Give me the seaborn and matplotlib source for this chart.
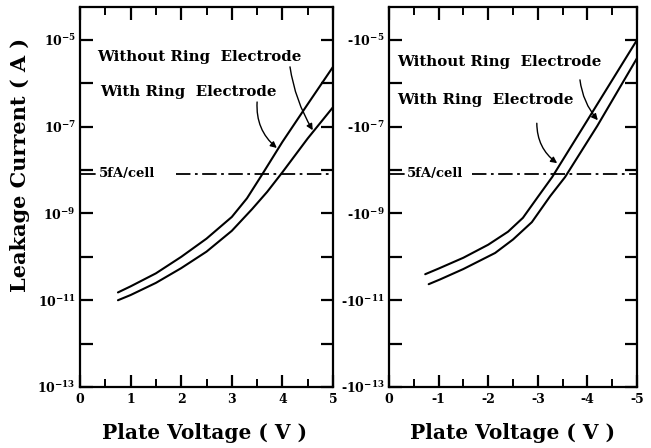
import numpy as np
import pandas as pd
import matplotlib
matplotlib.use("Agg")
import matplotlib.pyplot as plt
import seaborn as sns

# ---- data (log10 of |leakage current| in A) ----
left_v_upper = [0.75, 1.0, 1.5, 2.0, 2.5, 3.0, 3.3, 3.6, 4.0, 4.5, 5.0]
left_e_upper = [-10.82, -10.68, -10.38, -10.0, -9.58, -9.08, -8.65, -8.1, -7.35, -6.48, -5.62]
left_v_lower = [0.75, 1.0, 1.5, 2.0, 2.5, 3.0, 3.4, 3.7, 4.0, 4.5, 5.0]
left_e_lower = [-11.0, -10.88, -10.6, -10.26, -9.88, -9.4, -8.9, -8.5, -8.05, -7.27, -6.55]

right_v_upper = [-0.73, -1.0, -1.5, -2.0, -2.4, -2.7, -3.0, -3.29, -4.0, -5.0]
right_e_upper = [-10.4, -10.27, -10.02, -9.72, -9.42, -9.1, -8.62, -8.16, -6.85, -5.0]
right_v_lower = [-0.8, -1.03, -1.5, -2.14, -2.5, -2.88, -3.25, -3.55, -4.2, -5.0]
right_e_lower = [-10.63, -10.52, -10.28, -9.91, -9.6, -9.2, -8.6, -8.16, -6.98, -5.42]

limit_exp = -8.08          # 5fA/cell criterion
ytick_exps = list(range(-13, -4))
ylabel_exps = [-13, -11, -9, -7, -5]
left_xticks = [0, 1, 2, 3, 4, 5]
right_xticks = [0, -1, -2, -3, -4, -5]

sns.set_theme(style="ticks")
plt.rcParams['font.family'] = ['DejaVu Serif']
plt.rcParams['font.weight'] = 'bold'
plt.rcParams['mathtext.fontset'] = 'dejavuserif'
plt.rcParams['text.color'] = 'black'
plt.rcParams['axes.labelcolor'] = 'black'
plt.rcParams['xtick.color'] = 'black'
plt.rcParams['ytick.color'] = 'black'

fig = plt.figure(figsize=(6.51, 4.48), dpi=100)
axL = fig.add_axes([80/651, 1-387/448, 253/651, 380/448])
axR = fig.add_axes([389/651, 1-387/448, 248/651, 380/448])

def frame(ax, xticks, xlim, neg):
    ax.set_yscale('log')
    ax.set_ylim(1e-13, 10**-4.24)
    ax.set_xlim(*xlim)
    for s in ax.spines.values():
        s.set_linewidth(1.6)
        s.set_color('black')
    ax.set_yticks([10.0**e for e in ytick_exps])
    labs = []
    for e in ytick_exps:
        if e in ylabel_exps:
            labs.append(('-' if neg else '') + r'10$^{\mathbf{-%d}}$' % (-e))
        else:
            labs.append('')
    ax.set_yticklabels(labs)
    ax.yaxis.set_minor_locator(matplotlib.ticker.NullLocator())
    ax.set_xticks(xticks)
    ax.set_xticklabels([str(t) for t in xticks])
    minors = [t + (0.5 if not neg else -0.5) for t in xticks[:-1]]
    ax.set_xticks(minors, minor=True)
    ax.tick_params(axis='both', which='major', direction='in', length=9, width=1.6,
                   top=True, right=True, labelsize=9, colors='black', pad=4)
    ax.tick_params(axis='x', which='minor', direction='in', length=6, width=1.4,
                   top=True, bottom=True)
    ax.tick_params(axis='y', which='major', pad=3)
    for lab in ax.get_xticklabels() + ax.get_yticklabels():
        lab.set_fontweight('bold')
    ax.set_xlabel('')
    ax.set_ylabel('')

def curves(ax, v1, e1, v2, e2):
    df = pd.DataFrame({
        'V': v1 + v2,
        'I': [10.0**e for e in e1] + [10.0**e for e in e2],
        'curve': ['With Ring Electrode'] * len(v1) + ['Without Ring Electrode'] * len(v2),
    })
    sns.lineplot(data=df, x='V', y='I', units='curve', estimator=None, color='black',
                 lw=1.5, ax=ax, legend=False, sort=False)

curves(axL, left_v_upper, left_e_upper, left_v_lower, left_e_lower)
curves(axR, right_v_upper, right_e_upper, right_v_lower, right_e_lower)
frame(axL, left_xticks, (0, 5), False)
frame(axR, right_xticks, (0, -5), True)

dd = (0, (8, 2.5, 1.5, 2.5))
lim = 10.0**limit_exp
axL.plot([0, 0.3], [lim, lim], color='black', lw=1.3)
axL.plot([1.9, 5], [lim, lim], color='black', lw=1.3, ls=dd)
axR.plot([0, -0.3], [lim, lim], color='black', lw=1.3)
axR.plot([-1.67, -5], [lim, lim], color='black', lw=1.3, ls=dd)
axL.text(0.38, lim, '5fA/cell', fontsize=9.5, fontweight='bold', va='center', ha='left')
axR.text(-0.36, lim, '5fA/cell', fontsize=9.5, fontweight='bold', va='center', ha='left')

fs = 10.8
axL.text(0.34, 10**-5.39, 'Without Ring  Electrode', fontsize=fs, fontweight='bold', va='center')
axL.text(0.40, 10**-6.2, 'With Ring  Electrode', fontsize=fs, fontweight='bold', va='center')
axR.text(-0.16, 10**-5.51, 'Without Ring  Electrode', fontsize=fs, fontweight='bold', va='center')
axR.text(-0.16, 10**-6.39, 'With Ring  Electrode', fontsize=fs, fontweight='bold', va='center')

def arrow(rad):
    return dict(arrowstyle='-|>', color='black', lw=1.0, mutation_scale=9,
                connectionstyle='arc3,rad=%g' % rad, shrinkA=0, shrinkB=0)
axL.annotate('', xy=(3.89, 10**-7.49), xytext=(3.5, 10**-6.43), arrowprops=arrow(0.25))
axL.annotate('', xy=(4.6, 10**-7.08), xytext=(4.15, 10**-5.62), arrowprops=arrow(0.1))
axR.annotate('', xy=(-3.39, 10**-7.84), xytext=(-2.98, 10**-6.92), arrowprops=arrow(0.25))
axR.annotate('', xy=(-4.21, 10**-6.85), xytext=(-3.85, 10**-5.92), arrowprops=arrow(0.15))

fig.text(20/651, 1-165/448, 'Leakage Current ( A )', rotation=90, fontsize=15,
         fontweight='bold', ha='center', va='center')
fig.text(205/651, 1-433/448, 'Plate Voltage ( V )', fontsize=14.5, fontweight='bold',
         ha='center', va='center')
fig.text(513/651, 1-433/448, 'Plate Voltage ( V )', fontsize=14.5, fontweight='bold',
         ha='center', va='center')

fig.savefig('out.png', dpi=100)
